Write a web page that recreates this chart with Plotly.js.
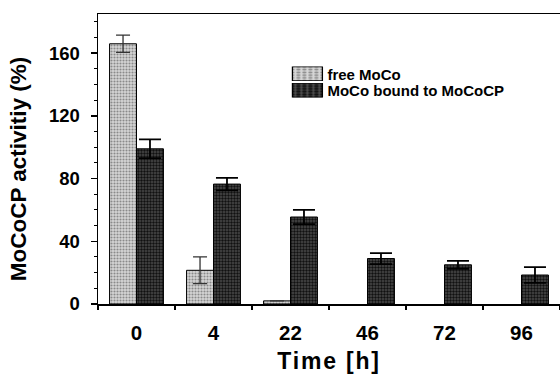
<!DOCTYPE html>
<html><head><meta charset="utf-8">
<script src="https://cdn.plot.ly/plotly-3.0.1.min.js"></script>
<style>html,body{margin:0;padding:0;background:#fff;}#chart{width:560px;height:374px;}
.xtitle{letter-spacing:1.8px;}</style>
</head><body><div id="chart"></div>
<script>
const categories = ["0", "4", "22", "46", "72", "96"];
const freeMoCo = [166, 21.5, 2, null, null, null];
const freeErr = [5.5, 8.5, 0, 0, 0, 0];
const boundMoCo = [99, 76.5, 55.5, 29, 25, 18.5];
const boundErr = [6, 4, 4.5, 3.5, 2.5, 5];
const seriesNames = ["free MoCo", "MoCo bound to MoCoCP"];

const font = "Liberation Sans, Arial, sans-serif";
const traces = [
  {type: "bar", name: seriesNames[0], x: categories, y: freeMoCo,
   error_y: {type: "data", array: freeErr, visible: true, color: "#333", thickness: 1.3, width: 7},
   marker: {color: "#c4c4c4", line: {color: "#000", width: 1},
            pattern: {shape: ".", fgcolor: "#8a8a8a", bgcolor: "#d6d6d6", size: 3, solidity: 0.4}}},
  {type: "bar", name: seriesNames[1], x: categories, y: boundMoCo,
   error_y: {type: "data", array: boundErr, visible: true, color: "#000", thickness: 1.8, width: 11},
   marker: {color: "#2e2e2e", line: {color: "#000", width: 1},
            pattern: {shape: ".", fgcolor: "#111", bgcolor: "#4a4a4a", size: 3, solidity: 0.5}}}
];
const layout = {
  width: 560, height: 374,
  margin: {l: 98, r: 0, t: 14, b: 70},
  paper_bgcolor: "#fff", plot_bgcolor: "#fff",
  barmode: "group", bargap: 0.3, bargroupgap: 0,
  showlegend: true,
  legend: {x: 0.41, y: 0.85, xanchor: "left", yanchor: "top", bgcolor: "rgba(0,0,0,0)",
           font: {family: font, size: 15, color: "#000", weight: "bold"}, tracegroupgap: 0, itemwidth: 30},
  xaxis: {type: "category", range: [-0.5, 5.5], showline: true, linecolor: "#000", linewidth: 1.5, mirror: true,
          ticks: "outside", ticklen: 4, tickwidth: 1.5, tickcolor: "#000", tickson: "boundaries",
          ticklabelstandoff: 10,
          tickfont: {family: font, size: 20.5, color: "#000", weight: "bold"},
          title: {text: "Time [h]", font: {family: font, size: 23, color: "#000", weight: "bold"}, standoff: 14},
          showgrid: false, zeroline: false, fixedrange: true},
  yaxis: {range: [0, 185], showline: true, linecolor: "#000", linewidth: 1.5,
          tickvals: [0, 40, 80, 120, 160], ticks: "outside", ticklen: 6, tickwidth: 1.5, tickcolor: "#000",
          minor: {dtick: 10, tick0: 0, ticks: "outside", ticklen: 3, tickwidth: 1, tickcolor: "#000"},
          ticklabelstandoff: 7,
          tickfont: {family: font, size: 18.5, color: "#000", weight: "bold"},
          title: {text: "MoCoCP activitiy (%)", font: {family: font, size: 22.5, color: "#000", weight: "bold"}, standoff: 16},
          showgrid: false, zeroline: false, fixedrange: true}
};
function tweak(gd) {
  gd.querySelectorAll(".legendpoints path").forEach(function (p) {
    p.setAttribute("transform", "translate(20,0) scale(2.5,1.15)");
    p.style.strokeWidth = "0.5px";
  });
  const items = gd.querySelectorAll(".legend .traces");
  if (items.length > 1 && !items[1].dataset.moved) {
    const t = items[1].getAttribute("transform") || "";
    const m = /translate\(\s*([-\d.]+)[ ,]+([-\d.]+)\s*\)/.exec(t);
    if (m) {
      items[1].setAttribute("transform", "translate(" + m[1] + "," + (parseFloat(m[2]) - 6) + ")");
      items[1].dataset.moved = "1";
    }
  }
  const yt = gd.querySelector(".ytitle");
  if (yt && !yt.dataset.moved) {
    yt.setAttribute("transform", "translate(0,10) " + (yt.getAttribute("transform") || ""));
    yt.dataset.moved = "1";
  }
}
Plotly.newPlot("chart", traces, layout, {staticPlot: true, displayModeBar: false}).then(function (gd) {
  tweak(gd);
});
</script></body></html>
